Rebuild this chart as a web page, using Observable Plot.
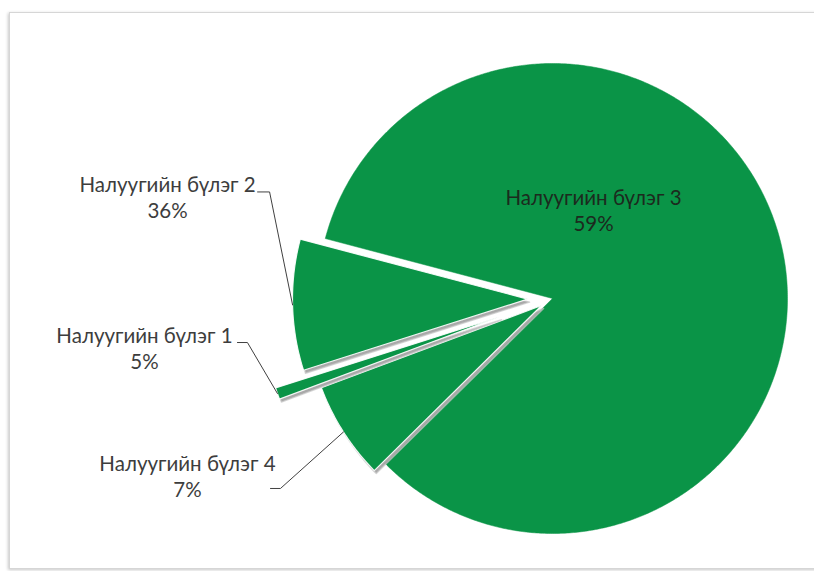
<!DOCTYPE html>
<html><head><meta charset="utf-8">
<script src="https://cdn.jsdelivr.net/npm/d3@7"></script>
<script src="https://cdn.jsdelivr.net/npm/@observablehq/plot@0.6"></script>
<style>
html,body{margin:0;padding:0;background:#fff;width:814px;height:571px;overflow:hidden;}
#frame{position:absolute;left:9px;top:12px;width:900px;height:555px;border:1px solid #d6d6d6;box-shadow:-1px 1px 3px rgba(0,0,0,0.22);}
#chart{position:absolute;left:0;top:0;}
</style></head><body>
<div id="frame"></div>
<div id="chart"></div>
<script>
// ---- data ----
const categories = ["Налуугийн бүлэг 1", "Налуугийн бүлэг 2", "Налуугийн бүлэг 3", "Налуугийн бүлэг 4"];
const percentLabels = ["5%", "36%", "59%", "7%"];
// share of the full circle each slice occupies as drawn in the picture (%)
const drawnShares = [0.8, 9.0, 83.5, 6.7];

// ---- layout ----
const W = 814, H = 571, CX = 552, CY = 298, R = 235, START = 249.5;
const explodePx = [56, 25, 0, 13];
const green = "#0a9447";
const shadowOffset = [2, 3]; // px, screen (right, down)
const labelLayout = [
  {knee: [-30, -51], tail: -10, text: [-133, -25]},
  {knee: [-23, -113], tail: -12, text: [-125, -87]},
  null,
  {knee: [-63, 56.5], tail: -10, text: [-156, 65.5]}
];
const insideLabelOffset = [41, -68];

const rad = d => d * Math.PI / 180;
const total = d3.sum(drawnShares);
let acc = START;
const slices = categories.map((name, i) => {
  const a0 = acc, a1 = acc + drawnShares[i] / total * 360;
  acc = a1;
  const mid = (a0 + a1) / 2;
  const ox = explodePx[i] * Math.sin(rad(mid)), oy = explodePx[i] * Math.cos(rad(mid));
  const pts = [{name, x: ox, y: oy}];
  const n = Math.max(2, Math.ceil((a1 - a0) / 0.5));
  for (let k = 0; k <= n; k++) {
    const a = a0 + (a1 - a0) * k / n;
    pts.push({name, x: ox + R * Math.sin(rad(a)), y: oy + R * Math.cos(rad(a))});
  }
  pts.push({name, x: ox, y: oy});
  const end = {x: ox + R * Math.sin(rad(mid)), y: oy + R * Math.cos(rad(mid))};
  return {name, i, pts, end, ox, oy};
});

const leaders = [], texts = [];
slices.forEach(s => {
  const L = labelLayout[s.i];
  const label = categories[s.i] + "\n" + percentLabels[s.i];
  if (L) {
    const kx = s.end.x + L.knee[0], ky = s.end.y - L.knee[1];
    leaders.push({name: s.name, x: s.end.x, y: s.end.y});
    leaders.push({name: s.name, x: kx, y: ky});
    leaders.push({name: s.name, x: kx + L.tail, y: ky});
    texts.push({x: s.end.x + L.text[0], y: s.end.y - L.text[1], label, inside: false});
  } else {
    texts.push({x: s.ox + insideLabelOffset[0], y: s.oy - insideLabelOffset[1], label, inside: true});
  }
});

const shadowOf = s => s.pts.map(p => ({name: s.name, x: p.x + shadowOffset[0], y: p.y - shadowOffset[1]}));
const marks = [
  Plot.line(slices[2].pts, {x: "x", y: "y", fill: green, stroke: green, strokeWidth: 0.5}),
];
[1, 3, 0].forEach(i => {
  marks.push(Plot.line(shadowOf(slices[i]), {x: "x", y: "y", fill: "#9a9a9a", fillOpacity: 0.85, stroke: "#c8c8c8", strokeWidth: 1.5, strokeOpacity: 0.7}));
  marks.push(Plot.line(slices[i].pts, {x: "x", y: "y", fill: green, stroke: "white", strokeWidth: 1.2, strokeOpacity: 0.9}));
});
marks.push(Plot.line(leaders, {x: "x", y: "y", z: "name", stroke: "#404040", strokeWidth: 1}));
marks.push(Plot.text(texts, {
  x: "x", y: "y", text: "label", textAnchor: "middle", lineAnchor: "bottom",
  fill: d => d.inside ? "#1c2a1e" : "#3d3d3d",
  fontSize: 20.5, lineHeight: 26 / 20.5, fontFamily: "Lato"
}));

const chart = Plot.plot({
  width: W, height: H, margin: 0,
  style: {background: "transparent", fontFamily: "Lato"},
  x: {domain: [-CX, W - CX], range: [0, W], axis: null},
  y: {domain: [-(H - CY), CY], range: [H, 0], axis: null},
  marks
});
document.getElementById("chart").appendChild(chart);
</script>
</body></html>
